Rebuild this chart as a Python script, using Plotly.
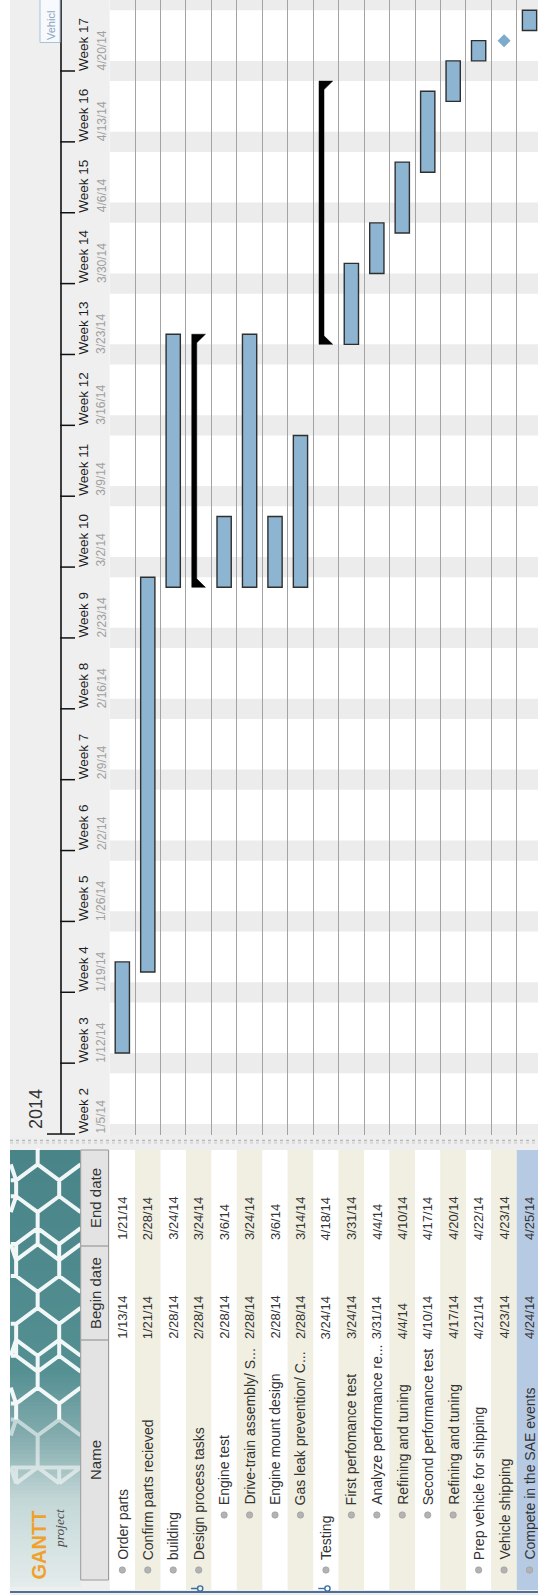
import math
from datetime import datetime, timedelta
import plotly.graph_objects as go

# ---------------- data ----------------
task_names = [
    "Order parts", "Confirm parts recieved", "building", "Design process tasks",
    "Engine test", "Drive-train assembly/ S...", "Engine mount design",
    "Gas leak prevention/ C...", "Testing", "First perfomance test",
    "Analyze performance re...", "Refining and tuning", "Second performance test",
    "Refining and tuning", "Prep vehicle for shipping", "Vehicle shipping",
    "Compete in the SAE events",
]
begin_dates = ["1/13/14", "1/21/14", "2/28/14", "2/28/14", "2/28/14", "2/28/14", "2/28/14",
               "2/28/14", "3/24/14", "3/24/14", "3/31/14", "4/4/14", "4/10/14", "4/17/14",
               "4/21/14", "4/23/14", "4/24/14"]
end_dates = ["1/21/14", "2/28/14", "3/24/14", "3/24/14", "3/6/14", "3/24/14", "3/6/14",
             "3/14/14", "4/18/14", "3/31/14", "4/4/14", "4/10/14", "4/17/14", "4/20/14",
             "4/22/14", "4/23/14", "4/25/14"]
task_types = ["task", "task", "task", "summary", "task", "task", "task", "task", "summary",
              "task", "task", "task", "task", "task", "task", "milestone", "task"]
task_levels = [0, 0, 0, 0, 1, 1, 1, 1, 0, 1, 1, 1, 1, 1, 0, 0, 0]
week_numbers = [2, 3, 4, 5, 6, 7, 8, 9, 10, 11, 12, 13, 14, 15, 16, 17]
week_start_labels = ["1/5/14", "1/12/14", "1/19/14", "1/26/14", "2/2/14", "2/9/14", "2/16/14",
                     "2/23/14", "3/2/14", "3/9/14", "3/16/14", "3/23/14", "3/30/14", "4/6/14",
                     "4/13/14", "4/20/14"]
year_label = "2014"
column_headers = ["Name", "Begin date", "End date"]
selected_row = 16
top_label = "Vehicl"

# ---------------- helpers / layout geometry ----------------
W, H = 538, 1595
FONT = "Liberation Sans, Arial, Helvetica, sans-serif"
DAY = timedelta(days=1)


def d(s):
    return datetime.strptime(s, "%m/%d/%y")


CHART_LEFT = 109.6      # px where task rows begin
ROW_H = 25.45           # px per row
CHART_BOTTOM = 1135     # px where the timeline ends
ANCHOR_DATE, ANCHOR_PX, PX_PER_DAY = datetime(2014, 4, 20), 71.0, 10.124


def py2date(py):
    return ANCHOR_DATE + timedelta(days=(ANCHOR_PX - py) / PX_PER_DAY)


def X(px):
    return px / W


def Y(py):
    return 1 - py / H


n = len(task_names)
y_top, y_bot = py2date(0), py2date(CHART_BOTTOM)
x_range = [-0.5, -0.5 + (W - CHART_LEFT) / ROW_H]

fig = go.Figure()

# ---------------- task bars ----------------
bx, by, bbase = [], [], []
for i, (t, b, e) in enumerate(zip(task_types, begin_dates, end_dates)):
    if t == "task":
        s0, s1 = d(b), d(e) + DAY
        bx.append(i)
        bbase.append(s0.strftime("%Y-%m-%d"))
        by.append((s1 - s0).total_seconds() * 1000)
fig.add_trace(go.Bar(x=bx, y=by, base=bbase, width=0.56,
                     marker=dict(color="#8db5d1", line=dict(color="#2f2f2f", width=1.4)),
                     hoverinfo="skip"))

# ---------------- summary brackets ----------------
a, b_, c = 5.8 / ROW_H, 10.8 / ROW_H, 19.5 / ROW_H
tri = timedelta(days=8.5 / PX_PER_DAY)
for i, (t, b, e) in enumerate(zip(task_types, begin_dates, end_dates)):
    if t == "summary":
        s0, s1 = d(b), d(e) + DAY
        r0 = i - 0.5
        xs = [r0 + a, r0 + a, r0 + c, r0 + b_, r0 + b_, r0 + c, r0 + a]
        ys = [s0, s1, s1, s1 - tri, s0 + tri, s0, s0]
        fig.add_trace(go.Scatter(x=xs, y=ys, mode="lines", fill="toself",
                                 fillcolor="black", line=dict(color="black", width=0.5),
                                 hoverinfo="skip"))

# ---------------- milestones ----------------
mx = [i for i, t in enumerate(task_types) if t == "milestone"]
my = [d(begin_dates[i]) for i in mx]
fig.add_trace(go.Scatter(x=mx, y=my, mode="markers",
                         marker=dict(symbol="diamond", size=10, color="#7eaacb"),
                         hoverinfo="skip"))

shapes = []
ann = []

# weekend shading
sat = datetime(2014, 1, 4)
while sat < y_top:
    shapes.append(dict(type="rect", xref="x", yref="y", x0=-0.5, x1=n, y0=sat, y1=sat + 2 * DAY,
                       fillcolor="#ececec", line_width=0, layer="below"))
    sat += 7 * DAY


def rect(x0, y0, x1, y1, fill, line=None, lw=0, xref="paper"):
    sh = dict(type="rect", xref=xref, yref="paper",
              x0=X(x0) if xref == "paper" else x0, x1=X(x1) if xref == "paper" else x1,
              y0=Y(y0), y1=Y(y1), fillcolor=fill, layer="above",
              line=dict(width=lw, color=line or fill))
    shapes.append(sh)


def hline(x0, x1, py, color, w=1, dash="solid"):
    shapes.append(dict(type="line", xref="paper", yref="paper", x0=X(x0), x1=X(x1),
                       y0=Y(py), y1=Y(py), line=dict(color=color, width=w, dash=dash),
                       layer="above"))


def vline(px, y0, y1, color, w=1):
    shapes.append(dict(type="line", xref="paper", yref="paper", x0=X(px), x1=X(px),
                       y0=Y(y0), y1=Y(y1), line=dict(color=color, width=w), layer="above"))


def label(text, x, y, size, color, xref="paper", yref="paper", yanchor="bottom", family=FONT):
    ann.append(dict(text=text, xref=xref, yref=yref, x=x, y=y, xanchor="center",
                    yanchor=yanchor, textangle=-90, showarrow=False,
                    font=dict(family=family, size=size, color=color),
                    borderpad=0, borderwidth=0))


# ---------------- timeline header ----------------
rect(10, 0, CHART_LEFT, CHART_BOTTOM, "#efefef")
rect(10, CHART_BOTTOM, W, 1150, "#eeeeee")
hline(10, W, 1140.5, "#b9b9b9", 1.5, "dot")
hline(10, W, 1143, "#c9c9c9", 1, "dot")
vline(61, 0, 1134, "#111111", 1.6)
for k, (wn, ws) in enumerate(zip(week_numbers, week_start_labels)):
    wd = d(ws)
    x0 = 47 if k == 0 else 60.2
    shapes.append(dict(type="line", xref="paper", yref="y", x0=X(x0), x1=X(75),
                       y0=wd, y1=wd, line=dict(color="#111111", width=1.5), layer="above"))
    label(f"Week {wn}", X(83.5), wd, 13.5, "#1e1e1e", yref="y")
    label(ws, X(101.5), wd, 12, "#a0a0a0", yref="y")
label(year_label, X(36), Y(1129), 18, "#333333")

# partially visible label box at the very top
rect(40, -10, 60, 42.5, "#f7f9fc", "#a9c2da", 1)
label(top_label, X(50.5), Y(40), 11, "#8aa6c1")

# ---------------- table area ----------------
TOP, BOT = 1150, 1590
rect(10, 1150, W, H, "#eeeeee")

# logo gradient
stops = [(1150, (72, 132, 136)), (1370, (84, 143, 146)), (1440, (135, 174, 176)),
         (1500, (196, 215, 215)), (1587, (228, 236, 236))]


def grad(py):
    for (p0, c0), (p1, c1) in zip(stops[:-1], stops[1:]):
        if p0 <= py <= p1:
            f = (py - p0) / (p1 - p0)
            return "rgb(%d,%d,%d)" % tuple(round(c0[j] + f * (c1[j] - c0[j])) for j in range(3))
    return "rgb(%d,%d,%d)" % stops[-1][1]


step = 4
py = 1150
while py < 1587:
    rect(10, py, 80.7, min(py + step + 0.6, 1587), grad(py + step / 2))
    py += step

# honeycomb lines clipped to logo area
LX0, LX1, LY0, LY1 = 10, 80.7, 1150, 1490


def clip(p, q):
    x0, y0 = p
    x1, y1 = q
    dx, dy = x1 - x0, y1 - y0
    t0, t1 = 0.0, 1.0
    for pp, qq in ((-dx, x0 - LX0), (dx, LX1 - x0), (-dy, y0 - LY0), (dy, LY1 - y0)):
        if pp == 0:
            if qq < 0:
                return None
        else:
            r = qq / pp
            if pp < 0:
                t0 = max(t0, r)
            else:
                t1 = min(t1, r)
    if t0 > t1:
        return None
    return (x0 + t0 * dx, y0 + t0 * dy), (x0 + t1 * dx, y0 + t1 * dy)


R = 25
segs_hi, segs_lo = [], []
for col in range(-1, 4):
    for row in range(-1, 10):
        cx = 18 + col * math.sqrt(3) * R + (row % 2) * math.sqrt(3) * R / 2
        cy = 1150 + row * 1.5 * R
        pts = [(cx + R * math.cos(math.radians(30 + 60 * k)),
                cy + 1.12 * R * math.sin(math.radians(30 + 60 * k))) for k in range(7)]
        for p, q in zip(pts[:-1], pts[1:]):
            cs = clip(p, q)
            if cs:
                (segs_hi if (cs[0][1] + cs[1][1]) / 2 < 1420 else segs_lo).append(cs)
for segs, col in ((segs_hi, "rgba(255,255,255,0.92)"), (segs_lo, "rgba(255,255,255,0.55)")):
    if segs:
        path = " ".join("M %.2f,%.2f L %.2f,%.2f" % (X(p[0]), Y(p[1]), X(q[0]), Y(q[1]))
                        for p, q in segs)
        shapes.append(dict(type="path", xref="paper", yref="paper", path=path,
                           line=dict(color=col, width=4), layer="above"))
label("<b>GANTT</b>", X(38), Y(1580), 20, "#f0a12c")
label("<i>project</i>", X(59), Y(1548), 13.5, "#4a4a4a",
      family="Liberation Serif, Times New Roman, serif")

# column header
rect(80.7, TOP, 108.5, 1580, "#e3e3e3", "#9a9a9a", 1)
col_bounds = {"End date": (1150, 1246), "Begin date": (1246, 1340), "Name": (1340, 1580)}
for hdr in column_headers:
    y0, y1 = col_bounds[hdr]
    if y0 > TOP:
        hline(81, 108.5, y0, "#8a8a8a", 1)
    label(hdr, X(95), Y((y0 + y1) / 2), 15, "#333333", yanchor="middle")

# table rows
for i in range(n):
    if i == selected_row:
        fill = "#b6cae3"
    else:
        fill = "#ffffff" if i % 2 == 0 else "#f0efe1"
    rect(i - 0.5, TOP, i + 0.5, BOT, fill, xref="x")
hline(10, W, 1592, "#4f6f98", 2.2)

for i, (nm, b, e, lvl, t) in enumerate(zip(task_names, begin_dates, end_dates, task_levels, task_types)):
    name_start = 1560 if lvl == 0 else 1505
    bullet = name_start + 10
    r = 3.2 / ROW_H
    shapes.append(dict(type="circle", xref="x", yref="paper", x0=i - r, x1=i + r,
                       y0=Y(bullet + 3.2), y1=Y(bullet - 3.2), fillcolor="#b3b3b3",
                       line=dict(color="#989898", width=0.6), layer="above"))
    if t == "summary":
        rr = 2.6 / ROW_H
        shapes.append(dict(type="circle", xref="x", yref="paper", x0=i + 0.06 - rr, x1=i + 0.06 + rr,
                           y0=Y(1588.5 + 2.6), y1=Y(1588.5 - 2.6), fillcolor="rgba(0,0,0,0)",
                           line=dict(color="#3a6ea5", width=1.4), layer="above"))
        shapes.append(dict(type="line", xref="x", yref="paper", x0=i - 0.3, x1=i - 0.05,
                           y0=Y(1588.5), y1=Y(1588.5), line=dict(color="#3a6ea5", width=1.4),
                           layer="above"))
    label(nm, i, Y(name_start), 14, "#333333", xref="x")
    label(b, i, Y(1339), 13, "#333333", xref="x")
    label(e, i, Y(1240), 13, "#333333", xref="x")

fig.update_layout(
    width=W, height=H, margin=dict(l=0, r=0, t=0, b=0),
    paper_bgcolor="white", plot_bgcolor="white", showlegend=False,
    shapes=shapes, annotations=ann,
    xaxis=dict(domain=[X(CHART_LEFT), 1], range=x_range,
               tickvals=[i + 0.5 for i in range(n - 1)], showgrid=True,
               gridcolor="#a3a3a3", gridwidth=1.2, showticklabels=False, ticks="",
               zeroline=False, showline=False),
    yaxis=dict(domain=[Y(CHART_BOTTOM), 1], type="date", range=[y_bot, y_top],
               showgrid=False, showticklabels=False, ticks="", zeroline=False, showline=False),
)
fig.write_html("out.html")
